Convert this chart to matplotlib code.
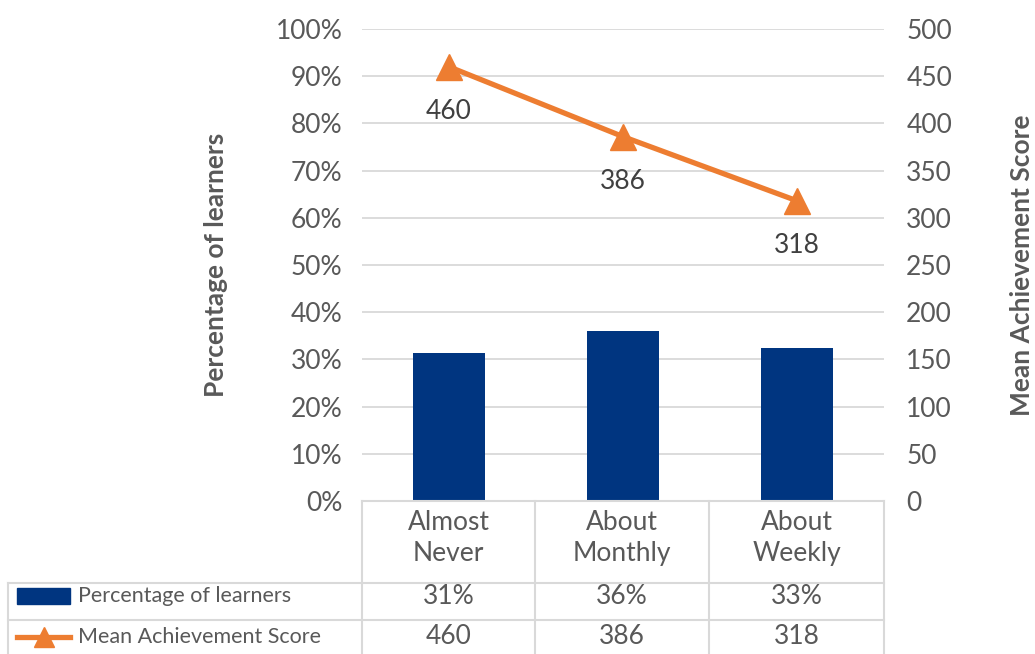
import matplotlib.pyplot as plt
from matplotlib.lines import Line2D
from matplotlib.patches import Rectangle
import numpy as np

plt.rcParams['font.family'] = ['Lato', 'DejaVu Sans']

# data
categories = ['Almost\nNever', 'About\nMonthly', 'About\nWeekly']
pct_learners = [31.3, 36.0, 32.5]
pct_labels = ['31%', '36%', '33%']
mean_score = [460, 386, 318]
series_names = ['Percentage of learners', 'Mean Achievement Score']

W, H = 1035, 654
navy = '#003580'
orange = '#ED7D31'
txt = '#595959'
grid = '#D9D9D9'
fs = 19

def fx(x):
    return x / W

def fy(y):
    return 1 - y / H

fig = plt.figure(figsize=(W / 100, H / 100), dpi=100)
L, R, T, B = 362, 884, 29, 501
ax = fig.add_axes([fx(L), fy(B), fx(R - L), (B - T) / H])
x = np.arange(len(categories))
ax.bar(x, pct_learners, width=0.41, color=navy, zorder=2)
ax.set_xlim(-0.5, 2.5)
ax.set_ylim(0, 100)
ax.set_yticks(range(0, 101, 10))
ax.set_yticklabels([f'{v}%' for v in range(0, 101, 10)])
ax.set_xticks([])
ax.grid(axis='y', color=grid, lw=1.3, zorder=0)
ax.set_axisbelow(True)
for s in ax.spines.values():
    s.set_visible(False)
ax.tick_params(axis='y', length=0, pad=14, labelsize=fs, labelcolor=txt)
ax.set_ylabel('Percentage of learners', fontsize=fs, color=txt,
              fontweight='bold', labelpad=34)

ax2 = ax.twinx()
ax2.plot(x, mean_score, color=orange, lw=3.8, marker='^', markersize=19,
         zorder=3)
ax2.set_ylim(0, 500)
ax2.set_yticks(range(0, 501, 50))
for s in ax2.spines.values():
    s.set_visible(False)
ax2.tick_params(axis='y', length=0, pad=16, labelsize=fs, labelcolor=txt)
ax2.set_ylabel('Mean Achievement Score', fontsize=fs, color=txt,
               fontweight='bold', labelpad=42)
for xi, v in zip(x, mean_score):
    ax2.annotate(str(v), (xi, v), xytext=(0, -32), textcoords='offset points',
                 ha='center', va='center', fontsize=fs, color='#404040')

# data table below the plot
def hline(x0, x1, y):
    fig.add_artist(Line2D([fx(x0), fx(x1)], [fy(y), fy(y)], color=grid, lw=1.5,
                          transform=fig.transFigure))

def vline(xv, y0, y1):
    fig.add_artist(Line2D([fx(xv), fx(xv)], [fy(y0), fy(y1)], color=grid, lw=1.5,
                          transform=fig.transFigure))

col_edges = [L, 535, 709, R]
hline(L, R, B)
hline(8, R, 583)
hline(8, R, 620)
vline(8, 583, 660)
for xe in col_edges:
    vline(xe, B, 660)

centers = [(col_edges[i] + col_edges[i + 1]) / 2 for i in range(3)]
for cx, cat, pl, ms in zip(centers, categories, pct_labels, mean_score):
    fig.text(fx(cx), fy(538), cat, ha='center', va='center', fontsize=fs,
             color=txt, linespacing=1.3)
    fig.text(fx(cx), fy(597), pl, ha='center', va='center', fontsize=fs, color=txt)
    fig.text(fx(cx), fy(637), str(ms), ha='center', va='center', fontsize=fs,
             color=txt)

fig.add_artist(Rectangle((fx(17), fy(604)), fx(53), 16 / H, color=navy,
                         transform=fig.transFigure))
fig.text(fx(78), fy(596), series_names[0], ha='left', va='center', fontsize=15.5,
         color=txt)
fig.add_artist(Line2D([fx(17), fx(70)], [fy(637), fy(637)], color=orange, lw=3.8,
                      transform=fig.transFigure))
fig.add_artist(Line2D([fx(43.5)], [fy(637)], color=orange, marker='^',
                      markersize=15, transform=fig.transFigure))
fig.text(fx(78), fy(637), series_names[1], ha='left', va='center', fontsize=15.5,
         color=txt)

fig.savefig('out.png', dpi=100)
